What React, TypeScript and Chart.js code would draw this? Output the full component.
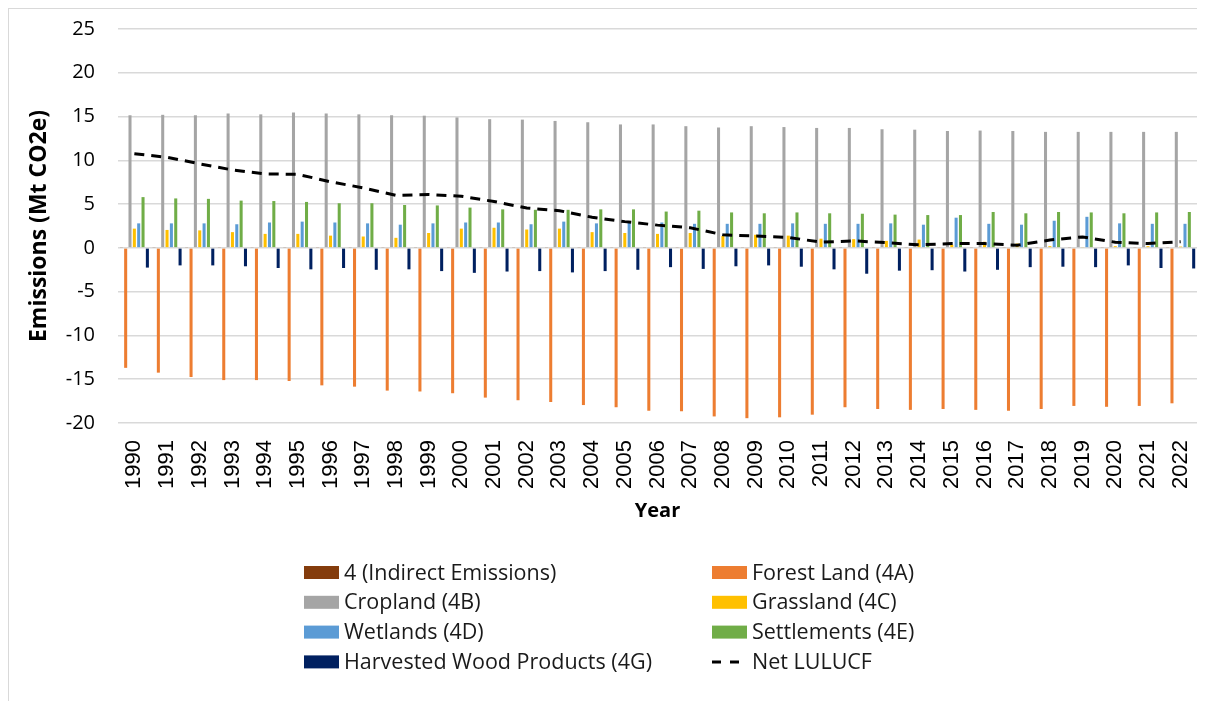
import { useEffect, useRef } from 'react';
import { Chart, registerables } from 'chart.js';

Chart.register(...registerables);

const years = ['1990', '1991', '1992', '1993', '1994', '1995', '1996', '1997', '1998', '1999', '2000', '2001', '2002', '2003', '2004', '2005', '2006', '2007', '2008', '2009', '2010', '2011', '2012', '2013', '2014', '2015', '2016', '2017', '2018', '2019', '2020', '2021', '2022'];

const indirectEmissions = [0.1, 0.1, 0.1, 0.1, 0.1, 0.1, 0.1, 0.1, 0.1, 0.1, 0.1, 0.1, 0.1, 0.1, 0.1, 0.1, 0.1, 0.1, 0.1, 0.1, 0.1, 0.1, 0.1, 0.1, 0.1, 0.1, 0.1, 0.1, 0.1, 0.1, 0.1, 0.1, 0.1];
const forestLand = [-13.7, -14.25, -14.75, -15.1, -15.1, -15.2, -15.7, -15.85, -16.3, -16.4, -16.6, -17.1, -17.4, -17.6, -17.95, -18.2, -18.6, -18.65, -19.25, -19.45, -19.35, -19.05, -18.2, -18.4, -18.5, -18.4, -18.5, -18.6, -18.4, -18.05, -18.15, -18.05, -17.75];
const cropland = [15.15, 15.2, 15.15, 15.35, 15.25, 15.45, 15.35, 15.25, 15.15, 15.1, 14.9, 14.7, 14.65, 14.5, 14.35, 14.1, 14.1, 13.9, 13.75, 13.9, 13.8, 13.7, 13.7, 13.55, 13.5, 13.35, 13.4, 13.35, 13.25, 13.25, 13.25, 13.25, 13.25];
const grassland = [2.2, 2.05, 2.0, 1.8, 1.6, 1.6, 1.4, 1.3, 1.15, 1.7, 2.2, 2.3, 2.1, 2.2, 1.8, 1.7, 1.6, 1.7, 1.35, 1.5, 1.4, 1.05, 1.0, 0.8, 0.95, 0.35, 0.7, 0.5, 0.2, 0.1, 0.2, 0.2, 0.15];
const wetlands = [2.8, 2.8, 2.8, 2.7, 2.9, 3.0, 2.9, 2.8, 2.65, 2.8, 2.9, 2.9, 2.7, 3.0, 2.8, 3.0, 2.9, 2.75, 2.75, 2.75, 2.8, 2.75, 2.75, 2.8, 2.65, 3.45, 2.75, 2.65, 3.1, 3.55, 2.8, 2.75, 2.75];
const settlements = [5.8, 5.65, 5.6, 5.4, 5.35, 5.25, 5.1, 5.1, 4.9, 4.85, 4.6, 4.4, 4.35, 4.35, 4.4, 4.4, 4.15, 4.25, 4.05, 3.95, 4.05, 3.95, 3.9, 3.8, 3.75, 3.75, 4.1, 3.95, 4.1, 4.05, 3.95, 4.05, 4.1];
const harvestedWood = [-2.25, -2.0, -2.0, -2.1, -2.3, -2.45, -2.3, -2.5, -2.45, -2.65, -2.85, -2.7, -2.65, -2.8, -2.65, -2.5, -2.2, -2.4, -2.1, -2.0, -2.15, -2.45, -2.95, -2.6, -2.55, -2.7, -2.5, -2.2, -2.15, -2.2, -2.0, -2.3, -2.35];
const netLULUCF = [10.75, 10.35, 9.6, 8.9, 8.45, 8.4, 7.55, 6.85, 6.0, 6.1, 5.9, 5.3, 4.55, 4.25, 3.5, 3.0, 2.6, 2.3, 1.5, 1.35, 1.2, 0.65, 0.8, 0.6, 0.35, 0.5, 0.5, 0.3, 0.9, 1.25, 0.65, 0.5, 0.7];

const yTicks = [-20, -15, -10, -5, 0, 5, 10, 15, 20, 25];

const seriesLabels = ['4 (Indirect Emissions)', 'Forest Land (4A)', 'Cropland (4B)', 'Grassland (4C)', 'Wetlands (4D)', 'Settlements (4E)', 'Harvested Wood Products (4G)', 'Net LULUCF'];
const seriesColors = ['#843C0C', '#ED7D31', '#A5A5A5', '#FFC000', '#5B9BD5', '#70AD47', '#002060', '#000000'];

const SANS = '"Open Sans", "Noto Sans", sans-serif';

const twoColumnLegend = {
  id: 'twoColumnLegend',
  afterDraw(chart: any) {
    const ctx = chart.ctx as CanvasRenderingContext2D;
    ctx.save();
    ctx.font = `21.5px ${SANS}`;
    ctx.textBaseline = 'middle';
    ctx.textAlign = 'left';
    chart.data.datasets.forEach((ds: any, i: number) => {
      const col = i % 2;
      const row = Math.floor(i / 2);
      const x = col === 0 ? 295 : 703;
      const y = 563.5 + row * 29.8;
      if (ds.type === 'line') {
        ctx.strokeStyle = ds.borderColor;
        ctx.lineWidth = 3;
        ctx.setLineDash([9, 9]);
        ctx.beginPath();
        ctx.moveTo(x, y);
        ctx.lineTo(x + 28, y);
        ctx.stroke();
        ctx.setLineDash([]);
      } else {
        ctx.fillStyle = ds.backgroundColor;
        ctx.fillRect(x, y - 6.5, 35, 13);
      }
      ctx.fillStyle = '#1a1a1a';
      ctx.fillText(ds.label, x + 40, y + 1);
    });
    ctx.restore();
  },
};

export default function App() {
  const canvasRef = useRef<HTMLCanvasElement>(null);

  useEffect(() => {
    if (!canvasRef.current) return;
    const barSeries = [indirectEmissions, forestLand, cropland, grassland, wetlands, settlements, harvestedWood];
    const datasets: any[] = barSeries.map((data, i) => ({
      type: 'bar',
      label: seriesLabels[i],
      data,
      backgroundColor: seriesColors[i],
      borderWidth: 0,
      categoryPercentage: 0.93,
      barPercentage: 0.7,
      order: 1,
    }));
    datasets.push({
      type: 'line',
      label: seriesLabels[7],
      data: netLULUCF,
      borderColor: seriesColors[7],
      backgroundColor: seriesColors[7],
      borderWidth: 3,
      borderDash: [10, 7],
      pointRadius: 0,
      tension: 0,
      fill: false,
      order: 0,
    });

    const chart = new Chart(canvasRef.current, {
      type: 'bar',
      data: { labels: years, datasets },
      options: {
        animation: false,
        responsive: false,
        maintainAspectRatio: false,
        layout: { padding: { top: 20, right: 8, bottom: 178, left: 0 } },
        plugins: {
          legend: { display: false },
          tooltip: { enabled: false },
        },
        scales: {
          x: {
            grid: { display: false, drawTicks: false },
            border: { display: false },
            ticks: {
              autoSkip: false,
              minRotation: 90,
              maxRotation: 90,
              padding: 17,
              color: '#000',
              font: { family: '"Liberation Sans", Arial, sans-serif', size: 22 },
            },
            title: {
              display: true,
              text: 'Year',
              color: '#000',
              font: { family: SANS, size: 20, weight: 'bold' },
              padding: { top: 0, bottom: 0 },
            },
            afterFit: (s: any) => {
              s.height = 100;
              s.paddingLeft = 0;
              s.paddingRight = 0;
            },
          },
          y: {
            min: -20,
            max: 25,
            afterBuildTicks: (s: any) => {
              s.ticks = yTicks.map((v) => ({ value: v }));
            },
            grid: { color: '#d9d9d9', lineWidth: 1.5, drawTicks: false },
            border: { display: false },
            ticks: {
              padding: 23,
              color: '#000',
              font: { family: SANS, size: 20 },
            },
            title: {
              display: true,
              text: 'Emissions (Mt CO2e)',
              color: '#000',
              font: { family: SANS, size: 23, weight: 'bold' },
              padding: { top: 17, bottom: 0 },
            },
            afterFit: (s: any) => {
              s.width = 109;
              s.paddingTop = 0;
              s.paddingBottom = 0;
            },
          },
        },
      } as any,
      plugins: [twoColumnLegend],
    });
    return () => chart.destroy();
  }, []);

  return (
    <div style={{ width: 1196, height: 692, borderLeft: '1px solid #d9d9d9', borderTop: '1px solid #d9d9d9', background: '#fff' }}>
      <canvas ref={canvasRef} width={1196} height={692} style={{ display: 'block' }} />
    </div>
  );
}
